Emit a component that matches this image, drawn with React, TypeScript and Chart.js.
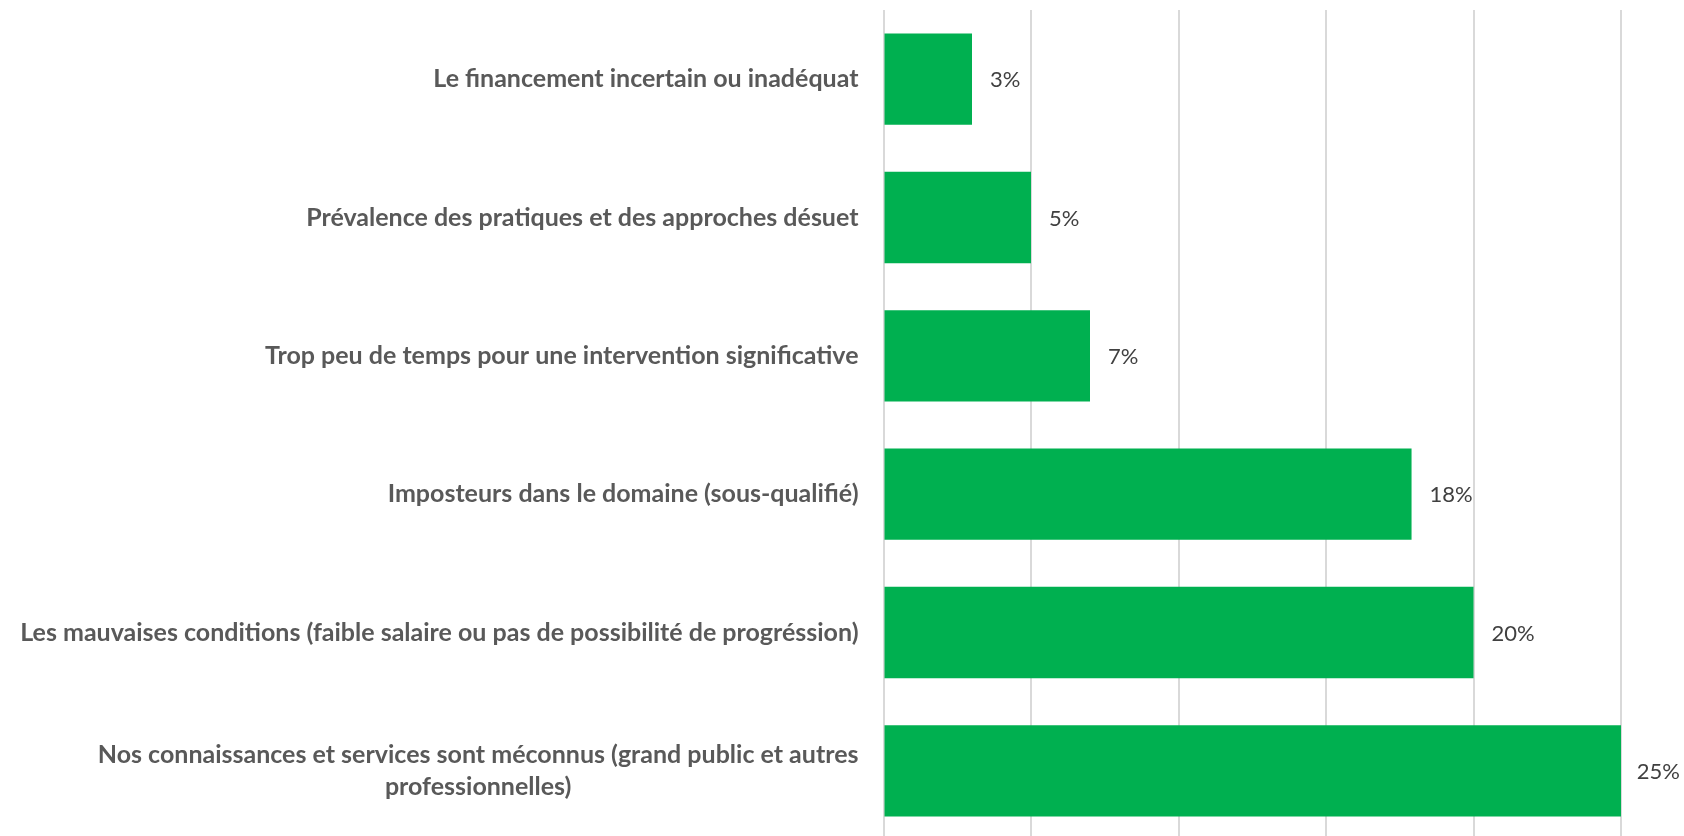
import React, { useEffect, useRef } from "react";
import { Chart, registerables } from "chart.js";

Chart.register(...registerables);

const categories: (string | string[])[] = [
  "Le financement incertain ou inadéquat",
  "Prévalence des pratiques et des approches désuet",
  "Trop peu de temps pour une intervention significative",
  "Imposteurs dans le domaine (sous-qualifié)",
  "Les mauvaises conditions (faible salaire ou pas de possibilité de progréssion)",
  ["Nos connaissances et services sont méconnus (grand public et autres", "professionnelles)"],
];
const values = [3, 5, 7, 17.9, 20, 25];
const xMin = 0;
const xMax = 25;
const xStep = 5;

const CAT_FONT = "bold 25px Lato";
const VAL_FONT = "22px Lato";

const categoryLabelPlugin = {
  id: "categoryLabels",
  afterDraw(chart: any) {
    const ctx = chart.ctx;
    const yScale = chart.scales.y;
    const right = chart.chartArea.left - 25;
    ctx.save();
    ctx.font = CAT_FONT;
    ctx.fillStyle = "#595959";
    ctx.textBaseline = "middle";
    ctx.textAlign = "center";
    categories.forEach((label, i) => {
      const lines = Array.isArray(label) ? label : [label];
      const yc = yScale.getPixelForValue(i);
      const blockW = Math.max(...lines.map((l) => ctx.measureText(l).width));
      const cx = right - blockW / 2;
      const lh = 32;
      lines.forEach((line, j) => {
        ctx.fillText(line, cx, yc + (j - (lines.length - 1) / 2) * lh);
      });
    });
    ctx.restore();
  },
};

const valueLabelPlugin = {
  id: "valueLabels",
  afterDatasetsDraw(chart: any) {
    const ctx = chart.ctx;
    const meta = chart.getDatasetMeta(0);
    ctx.save();
    ctx.font = VAL_FONT;
    ctx.fillStyle = "#404040";
    ctx.textBaseline = "middle";
    ctx.textAlign = "left";
    meta.data.forEach((el: any, i: number) => {
      const text = Math.round(values[i]) + "%";
      const w = ctx.measureText(text).width;
      let x = el.x + 18;
      if (x + w > chart.width - 4) x = chart.width - 4 - w;
      ctx.fillText(text, x, el.y + 1);
    });
    ctx.restore();
  },
};

export default function App() {
  const ref = useRef<HTMLCanvasElement | null>(null);
  useEffect(() => {
    if (!ref.current) return;
    const chart = new Chart(ref.current, {
      type: "bar",
      data: {
        labels: categories as any,
        datasets: [
          {
            data: values,
            backgroundColor: "#00B050",
            borderWidth: 0,
            categoryPercentage: 1,
            barPercentage: 0.66,
          },
        ],
      },
      options: {
        indexAxis: "y",
        responsive: false,
        animation: false,
        layout: { padding: { top: 10, right: 63, left: 0, bottom: 0 } },
        plugins: { legend: { display: false }, tooltip: { enabled: false } },
        scales: {
          x: {
            min: xMin,
            max: xMax,
            ticks: { display: false, stepSize: xStep },
            grid: { color: "#D9D9D9", lineWidth: 2, drawTicks: false },
            border: { display: false },
            afterFit: (s: any) => {
              s.height = 0;
            },
          },
          y: {
            ticks: { display: false },
            grid: { display: false },
            border: { display: false },
            afterFit: (s: any) => {
              s.width = 883.5;
            },
          },
        },
      },
      plugins: [categoryLabelPlugin, valueLabelPlugin],
    } as any);
    return () => chart.destroy();
  }, []);
  return (
    <div
      style={{
        position: "fixed",
        left: 0,
        top: 0,
        width: 1684,
        height: 836,
        overflow: "hidden",
        background: "#fff",
      }}
    >
      <canvas ref={ref} width={1684} height={840} style={{ width: 1684, height: 840, display: "block" }} />
    </div>
  );
}
